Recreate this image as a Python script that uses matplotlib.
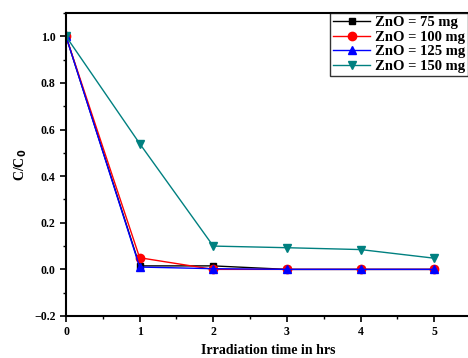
import matplotlib.pyplot as plt
from matplotlib.ticker import MultipleLocator

plt.rcParams['font.family'] = ['Liberation Serif', 'DejaVu Serif']
plt.rcParams['font.weight'] = 'bold'

time_hrs = [0, 1, 2, 3, 4, 5]
zno_75 = [1.0, 0.015, 0.015, 0.0, 0.0, 0.0]
zno_100 = [1.0, 0.05, 0.0, 0.0, 0.0, 0.0]
zno_125 = [1.0, 0.01, 0.003, 0.0, 0.0, 0.0]
zno_150 = [1.0, 0.54, 0.10, 0.093, 0.085, 0.048]

fig = plt.figure(figsize=(4.68, 3.58), dpi=100)
ax = fig.add_axes([66 / 468, 42 / 358, 405 / 468, 303 / 358])

ax.plot(time_hrs, zno_75, color='black', marker='s', ms=5, lw=1, label='ZnO = 75 mg')
ax.plot(time_hrs, zno_100, color='red', marker='o', ms=6, lw=1, label='ZnO = 100 mg')
ax.plot(time_hrs, zno_125, color='blue', marker='^', ms=6, lw=1, label='ZnO = 125 mg')
ax.plot(time_hrs, zno_150, color='#008080', marker='v', ms=6, lw=1, label='ZnO = 150 mg')

ax.set_xlim(0, 5.5)
ax.set_ylim(-0.2, 1.1)
ax.xaxis.set_major_locator(MultipleLocator(1))
ax.xaxis.set_minor_locator(MultipleLocator(0.5))
ax.yaxis.set_major_locator(MultipleLocator(0.2))
ax.yaxis.set_minor_locator(MultipleLocator(0.1))
ax.tick_params(which='major', direction='out', length=4, width=1.2, labelsize=8.5)
ax.tick_params(which='minor', direction='out', length=2.5, width=1)
for s in ax.spines.values():
    s.set_linewidth(1.5)
for lab in ax.get_xticklabels() + ax.get_yticklabels():
    lab.set_fontweight('bold')

ax.set_xlabel('Irradiation time in hrs', fontsize=10, fontweight='bold', labelpad=4)
ax.set_ylabel('C/C$_\\mathbf{0}$', fontsize=10, fontweight='bold', labelpad=4)

leg = ax.legend(loc='upper right', fontsize=10.5, frameon=True, fancybox=False,
                edgecolor='black', borderpad=0.2, labelspacing=0.1,
                handlelength=2.6, handletextpad=0.3, borderaxespad=0.0,
                bbox_to_anchor=(1.0 - 3 / 405, 1.0))
leg.get_frame().set_linewidth(1)
for t in leg.get_texts():
    t.set_fontweight('bold')

fig.savefig('out.png', dpi=100)
